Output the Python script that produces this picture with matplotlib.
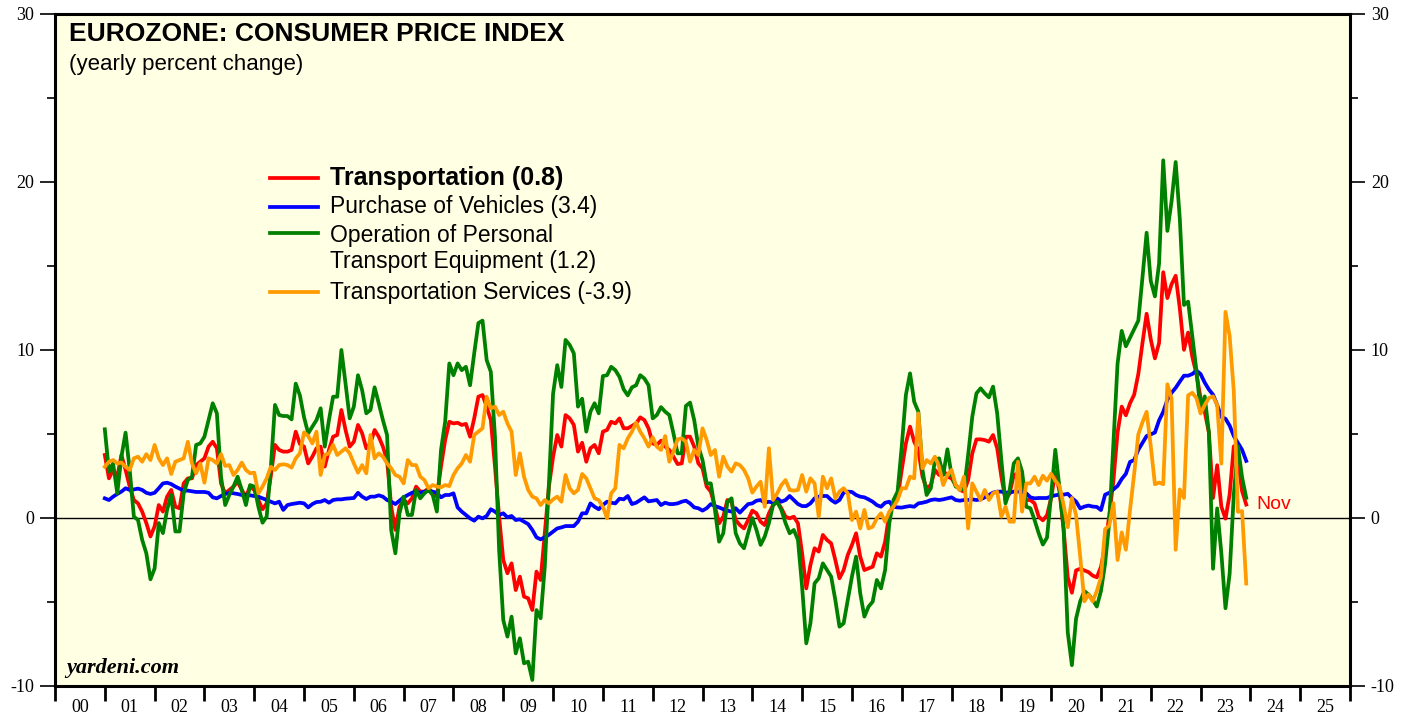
import numpy as np
import matplotlib
matplotlib.use("Agg")
import matplotlib.pyplot as plt
from matplotlib.ticker import FixedLocator, NullFormatter, FixedFormatter

plt.rcParams["axes.unicode_minus"] = False

# === DATA (monthly, yearly % change, Jan 2001 onward) ===
transportation = [
    3.75, 2.36, 2.86, 2.46, 3.75, 2.86, 1.87, 1.07, 0.87, 0.38, -0.3, -1.1,
    -0.5, 0.77, 0.38, 1.27, 1.67, 0.67, 0.58, 2.06, 2.36, 2.36, 3.15, 3.35,
    3.55, 4.25, 4.54, 4.15, 2.06, 1.47, 1.67, 1.87, 2.16, 1.67, 1.27, 1.87,
    1.67, 1.07, 0.52, 0.87, 2.5, 4.35, 4.05, 3.95, 3.95, 4.05, 5.14, 4.4,
    4.25, 3.25, 3.65, 4.15, 4.25, 3.06, 4.05, 4.84, 4.94, 6.43, 5.24, 4.25,
    4.54, 5.54, 5.04, 4.15, 4.44, 5.24, 4.84, 4.25, 3.45, 0.67, -0.71, 0.67,
    1.07, 0.87, 1.17, 1.87, 1.57, 1.57, 1.77, 1.47, 1.27, 3.06, 4.64, 5.73,
    5.63, 5.67, 5.54, 5.6, 4.84, 5.93, 7.22, 7.32, 6.63, 5.83, 3.06, 0.08,
    -2.5, -3.29, -2.7, -4.29, -3.49, -4.68, -4.78, -5.48, -3.19, -3.69, -0.9, 1.87,
    3.65, 4.94, 4.25, 6.13, 5.93, 5.54, 3.95, 4.48, 3.35, 4.15, 4.35, 3.85,
    5.14, 5.24, 5.73, 5.63, 5.93, 5.34, 5.34, 5.48, 5.63, 5.99, 5.83, 5.34,
    4.44, 4.35, 4.6, 4.25, 4.05, 3.65, 3.21, 3.25, 4.84, 4.84, 4.25, 3.25,
    2.96, 1.87, 1.57, 0.67, -0.32, 0.08, 1.07, 0.97, -0.12, -0.42, -0.62, -0.12,
    0.44, 0.28, -0.22, -0.42, 0.28, 0.77, 0.97, 0.58, 0.08, -0.02, 0.08, -0.32,
    -2.1, -4.19, -2.8, -1.8, -2.0, -1.01, -1.31, -1.51, -2.5, -3.59, -3.1, -2.2,
    -1.61, -0.91, -2.3, -3.1, -3.0, -2.9, -2.1, -2.3, -1.41, 0.28, 0.77, 1.17,
    2.86, 4.44, 5.44, 4.54, 4.05, 2.46, 1.77, 1.96, 2.86, 2.56, 2.86, 2.46,
    2.36, 1.96, 1.67, 1.57, 2.26, 3.85, 4.68, 4.68, 4.64, 4.54, 4.94, 4.15,
    2.46, 1.07, 1.47, 2.56, 2.66, 1.87, 1.07, 1.07, 0.87, 0.08, -0.14, 0.16,
    1.19, 2.73, 1.6, -0.66, -3.53, -4.45, -3.12, -3.02, -3.12, -3.22, -3.43, -3.53,
    -2.91, -1.68, 0.16, 2.22, 5.09, 6.63, 6.11, 6.83, 7.34, 8.57, 10.42, 12.16,
    10.63, 9.5, 10.42, 14.63, 13.09, 13.91, 14.42, 12.47, 10.01, 11.04, 9.6, 8.57,
    7.14, 6.32, 5.09, 1.19, 3.14, 0.68, -0.04, 1.39, 4.27, 3.45, 1.6, 0.8,
]

vehicles = [
    1.17, 1.07, 1.27, 1.43, 1.57, 1.77, 1.67, 1.7, 1.75, 1.67, 1.5, 1.43,
    1.5, 1.77, 2.06, 2.1, 2.02, 1.87, 1.75, 1.63, 1.63, 1.59, 1.55, 1.55,
    1.55, 1.5, 1.23, 1.17, 1.31, 1.43, 1.5, 1.47, 1.43, 1.37, 1.37, 1.35,
    1.31, 1.27, 1.17, 1.07, 0.97, 0.87, 0.97, 0.48, 0.77, 0.83, 0.87, 0.91,
    0.87, 0.63, 0.83, 0.95, 0.97, 1.07, 0.91, 1.07, 1.11, 1.11, 1.15, 1.17,
    1.19, 1.5, 1.27, 1.13, 1.27, 1.27, 1.35, 1.27, 1.07, 0.97, 0.83, 1.03,
    1.23, 1.37, 1.5, 1.57, 1.5, 1.57, 1.61, 1.57, 1.5, 1.23, 1.37, 1.37,
    1.47, 0.63, 0.38, 0.18, -0.02, -0.16, 0.08, -0.02, 0.12, 0.52, 0.38, 0.18,
    0.28, 0.04, 0.12, -0.12, -0.08, -0.22, -0.36, -0.71, -1.15, -1.27, -1.15, -1.0,
    -0.81, -0.62, -0.56, -0.48, -0.48, -0.48, -0.22, 0.28, 0.28, 0.87, 0.67, 0.52,
    0.77, 0.97, 0.91, 0.87, 1.15, 1.11, 1.31, 0.83, 0.91, 1.07, 1.23, 0.99,
    1.03, 1.07, 0.77, 0.91, 0.83, 0.83, 0.87, 0.97, 1.03, 0.87, 0.63, 0.58,
    0.44, 0.58, 0.83, 0.71, 0.63, 0.52, 0.44, 0.38, 0.58, 0.32, 0.58, 0.83,
    0.87, 1.03, 1.07, 0.91, 0.97, 0.91, 1.17, 0.97, 1.07, 1.31, 1.07, 0.83,
    0.71, 0.71, 0.87, 1.17, 1.27, 1.31, 1.31, 1.07, 0.91, 1.07, 1.51, 1.57,
    1.55, 1.37, 1.27, 1.23, 1.11, 0.97, 0.77, 0.67, 0.91, 0.97, 0.67, 0.63,
    0.62, 0.67, 0.71, 0.67, 0.87, 0.91, 0.97, 1.07, 1.11, 1.07, 1.11, 1.17,
    1.23, 1.07, 1.03, 1.07, 1.07, 1.11, 1.07, 1.11, 1.23, 1.37, 1.51, 1.57,
    1.57, 1.51, 1.51, 1.57, 1.57, 1.57, 1.47, 1.23, 1.17, 1.19, 1.19, 1.19,
    1.29, 1.35, 1.39, 1.39, 1.44, 1.19, 0.98, 0.57, 0.68, 0.74, 0.68, 0.66,
    0.47, 1.39, 1.5, 1.7, 1.91, 2.32, 2.63, 3.34, 3.45, 4.06, 4.47, 4.88,
    4.98, 5.09, 5.81, 6.32, 7.04, 7.45, 7.75, 8.12, 8.47, 8.47, 8.57, 8.78,
    8.57, 8.06, 7.65, 7.34, 6.73, 6.01, 5.91, 5.5, 4.88, 4.47, 4.06, 3.4,
]

operation = [
    5.28, 2.76, 3.25, 1.47, 3.65, 5.08, 2.86, 0.08, -0.12, -1.3, -2.1, -3.65,
    -3.0, -0.3, -0.9, 0.48, 1.37, -0.8, -0.8, 1.47, 2.26, 2.46, 4.35, 4.44,
    4.84, 5.83, 6.83, 6.23, 2.46, 0.77, 1.37, 1.87, 2.46, 1.67, 0.77, 1.96,
    1.87, 0.67, -0.28, 0.08, 3.0, 6.73, 6.13, 6.07, 6.07, 5.87, 8.0, 7.3,
    6.0, 5.04, 5.44, 5.83, 6.53, 4.25, 5.83, 7.22, 7.22, 10.0, 8.0, 5.93,
    6.63, 8.5, 7.6, 6.23, 6.43, 7.78, 6.83, 5.83, 4.94, -0.71, -2.1, 0.28,
    1.27, 0.18, 0.18, 1.67, 1.17, 1.47, 1.67, 1.37, 0.38, 4.05, 5.73, 9.2,
    8.5, 9.2, 8.8, 9.0, 7.9, 9.8, 11.6, 11.75, 9.4, 8.7, 4.84, -1.9,
    -6.07, -7.06, -5.87, -8.06, -7.16, -8.65, -8.55, -9.64, -5.48, -5.97, -2.9, 2.06,
    7.4, 9.1, 7.8, 10.6, 10.3, 9.8, 6.63, 7.1, 5.14, 6.33, 6.83, 6.23,
    8.45, 8.5, 9.0, 8.8, 8.4, 7.66, 7.3, 7.78, 7.9, 8.5, 8.3, 7.9,
    5.93, 6.13, 6.6, 6.33, 6.13, 5.04, 3.85, 3.85, 6.67, 6.87, 5.83, 4.25,
    3.45, 2.06, 2.06, 0.48, -1.41, -0.91, 0.97, 1.17, -0.91, -1.51, -1.8, -0.91,
    0.0, -0.71, -1.6, -1.1, -0.3, 0.77, 0.97, 0.48, -0.3, -0.91, -0.71, -1.3,
    -4.09, -7.46, -6.27, -3.89, -3.59, -2.7, -3.1, -3.49, -4.88, -6.47, -6.27, -4.88,
    -3.49, -2.3, -4.48, -5.87, -5.28, -4.98, -3.69, -4.19, -3.1, -0.32, 1.07, 1.57,
    4.25, 7.32, 8.61, 6.92, 6.33, 2.86, 1.37, 1.77, 3.45, 3.55, 2.56, 4.09,
    2.56, 1.87, 1.77, 1.67, 3.75, 6.03, 7.42, 7.72, 7.42, 7.18, 7.82, 6.23,
    3.45, 0.87, 1.67, 3.25, 3.55, 2.76, 0.67, 0.58, -0.12, -0.91, -1.58, -1.17,
    1.39, 4.06, 1.8, -0.66, -6.81, -8.76, -5.99, -4.96, -4.35, -4.55, -4.86, -5.27,
    -4.35, -2.71, -0.25, 4.47, 9.19, 11.14, 10.22, 10.73, 11.24, 11.75, 14.32, 16.98,
    14.11, 13.19, 15.14, 21.29, 17.09, 18.83, 21.19, 17.8, 12.68, 12.88, 10.83, 8.78,
    6.32, 7.24, 5.09, -3.02, 0.57, -2.09, -5.37, -3.32, 1.39, 4.27, 2.42, 1.2,
]

services = [
    3.05, 3.35, 3.45, 3.25, 3.3, 3.05, 2.86, 3.55, 3.65, 3.35, 3.8, 3.45,
    4.35, 3.55, 3.15, 3.55, 2.62, 3.35, 3.45, 3.55, 4.54, 3.25, 2.66, 3.25,
    2.1, 3.55, 3.45, 3.25, 3.8, 3.1, 3.15, 2.56, 2.86, 3.3, 2.86, 2.66,
    2.7, 1.47, 1.87, 2.36, 3.05, 2.86, 3.15, 3.2, 3.15, 3.0, 3.55, 3.85,
    5.1, 4.88, 4.44, 5.14, 2.56, 3.75, 3.85, 4.35, 3.75, 3.95, 4.15, 3.85,
    3.25, 2.7, 3.15, 2.66, 4.94, 3.55, 3.85, 3.65, 3.25, 2.96, 2.56, 2.46,
    2.06, 3.45, 3.15, 3.15, 2.46, 2.26, 1.77, 1.96, 1.87, 1.83, 1.96, 1.9,
    2.56, 2.96, 3.25, 3.75, 3.35, 4.94, 5.14, 5.34, 7.22, 6.53, 6.63, 6.13,
    6.33, 5.63, 5.14, 2.56, 3.85, 2.46, 1.67, 1.27, 1.17, 0.77, 1.07, 0.87,
    1.11, 1.27, 0.97, 2.56, 1.77, 1.47, 1.67, 2.62, 2.36, 1.77, 1.17, 1.07,
    0.67, -0.02, 1.47, 1.77, 4.35, 4.15, 4.74, 5.14, 5.67, 5.14, 4.74, 4.25,
    4.8, 4.25, 4.05, 4.88, 3.35, 3.95, 4.68, 4.74, 4.54, 3.35, 4.05, 3.75,
    5.34, 4.64, 3.75, 4.05, 2.46, 3.65, 3.06, 2.76, 3.25, 3.15, 2.86, 2.36,
    1.51, 1.87, 2.16, 0.67, 4.15, 1.07, 1.47, 1.96, 2.26, 1.67, 1.63, 1.67,
    2.56, 1.57, 2.36, 2.06, 0.08, 2.46, 1.77, 2.36, 1.17, 1.57, 1.77, 1.47,
    -0.12, 0.38, -0.62, 0.48, -0.62, -0.52, -0.02, 0.28, -0.22, 0.38, 0.67, 1.07,
    1.77, 1.77, 2.46, 2.36, 6.23, 2.96, 3.45, 3.25, 3.65, 3.06, 1.96, 2.56,
    2.86, 1.96, 1.67, 2.46, -0.62, 2.06, 1.57, 1.07, 1.67, 1.07, 1.47, 1.57,
    0.08, 0.67, -0.22, -0.22, 3.35, 0.38, 2.06, 2.06, 2.46, 1.96, 2.52, 2.22,
    2.63, 2.22, 1.91, 0.78, -0.55, 1.19, 0.16, -2.3, -4.96, -4.55, -4.96, -4.35,
    -3.53, -0.66, -0.45, 0.88, -2.5, -0.86, -1.89, 0.47, 2.63, 4.98, 5.7, 6.32,
    4.27, 2.01, 2.11, 2.01, 7.96, 7.14, -1.89, 1.7, 1.19, 7.3, 7.45, 7.14,
    6.22, 6.73, 7.14, 7.24, 6.73, 3.24, 12.27, 10.83, 7.55, 0.37, 0.41, -3.9,
]

year_labels = ["%02d" % y for y in range(0, 26)]
legend_labels = [
    "Transportation (0.8)",
    "Purchase of Vehicles (3.4)",
    "Operation of Personal\nTransport Equipment (1.2)",
    "Transportation Services (-3.9)",
]

# === STYLE ===
RED, BLUE, GREEN, ORANGE = "#FF0000", "#0000FF", "#008000", "#FF9A00"
SANS = "Liberation Sans"
SERIF = "Liberation Serif"

months = 2001 + np.arange(len(transportation)) / 12.0

fig = plt.figure(figsize=(14.16, 7.19), dpi=100)
ax = fig.add_axes([55 / 1416, 1 - 686 / 719, 1295 / 1416, 672 / 719])
ax.set_facecolor("#FFFFE3")

ax.axhline(0, color="black", lw=1.0, zorder=1)
ax.plot(months, transportation, color=RED, lw=2.7, zorder=3)
ax.plot(months, vehicles, color=BLUE, lw=2.7, zorder=4)
ax.plot(months, operation, color=GREEN, lw=2.7, zorder=5)
ax.plot(months, services, color=ORANGE, lw=2.7, zorder=6)

ax.set_xlim(2000, 2026)
ax.set_ylim(-10, 30)

# x axis: year boundaries as ticks, labels centred in each year
ax.xaxis.set_major_locator(FixedLocator(range(2000, 2027)))
ax.xaxis.set_major_formatter(NullFormatter())
ax.xaxis.set_minor_locator(FixedLocator([2000.5 + i for i in range(26)]))
ax.xaxis.set_minor_formatter(FixedFormatter(year_labels))
ax.tick_params(axis="x", which="major", direction="out", length=11, width=2.0)
ax.tick_params(axis="x", which="minor", length=0, pad=9, labelsize=13)

# y axis on both sides
ax.set_yticks([-10, 0, 10, 20, 30])
ax.set_yticks([-5, 5, 15, 25], minor=True)
ax.tick_params(axis="y", which="both", direction="out", left=True, right=True,
               labelleft=True, labelright=True, width=1.2)
ax.tick_params(axis="y", which="major", length=11, pad=4, labelsize=13)
ax.tick_params(axis="y", which="minor", length=6)

for lab in ax.get_xticklabels(minor=True) + ax.get_yticklabels():
    lab.set_fontfamily(SERIF)

for sp in ax.spines.values():
    sp.set_linewidth(2.2)

# titles
ax.text(0.011, 0.988, "EUROZONE: CONSUMER PRICE INDEX", transform=ax.transAxes,
        fontsize=19, fontweight="bold", family=SANS, va="top", ha="left")
ax.text(0.011, 0.94, "(yearly percent change)", transform=ax.transAxes,
        fontsize=16, family=SANS, va="top", ha="left")

# legend drawn by hand
leg_colors = [RED, BLUE, GREEN, ORANGE]
leg_y = [178, 207, 233, 292]
for lab, col, yy in zip(legend_labels, leg_colors, leg_y):
    ya = (686 - yy) / 672
    ax.plot([(270 - 55) / 1295, (318 - 55) / 1295], [ya, ya], color=col, lw=2.7,
            transform=ax.transAxes, clip_on=False)
    if "\n" in lab:
        ax.text((330 - 55) / 1295, ya + 0.014, lab, transform=ax.transAxes,
                fontsize=16.5, family=SANS, va="top", ha="left", linespacing=1.2)
    elif col == RED:
        ax.text((330 - 55) / 1295, ya, lab, transform=ax.transAxes,
                fontsize=18, family=SANS, va="center", ha="left", fontweight="bold")
    else:
        ax.text((330 - 55) / 1295, ya, lab, transform=ax.transAxes,
                fontsize=16.5, family=SANS, va="center", ha="left")

ax.text(months[-1] + 0.2, transportation[-1], "Nov", color=RED, fontsize=14,
        family=SANS, va="center", ha="left")

ax.text(0.009, 0.012, "yardeni.com", transform=ax.transAxes, fontsize=16,
        family=SERIF, fontweight="bold", fontstyle="italic", va="bottom", ha="left")

fig.savefig("out.png", dpi=100)
